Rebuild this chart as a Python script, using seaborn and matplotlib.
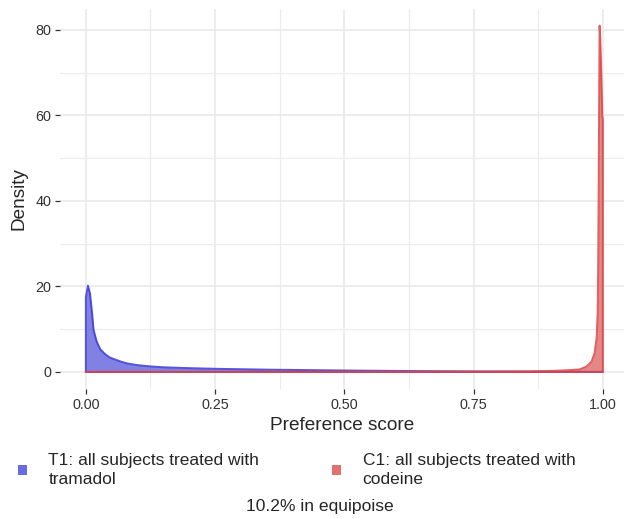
import numpy as np
import pandas as pd
import matplotlib
matplotlib.use("Agg")
import matplotlib.pyplot as plt
import seaborn as sns
from matplotlib.patches import Patch
from matplotlib.ticker import MultipleLocator

# Kurven (Dichte der Präferenz-Scores)
t1_x = [0.0, 0.004, 0.008, 0.012, 0.015, 0.021, 0.028, 0.037, 0.046, 0.066, 0.08, 0.10,
        0.125, 0.15, 0.20, 0.25, 0.35, 0.50, 0.60, 0.75, 0.90, 1.0]
t1_y = [17.5, 20.2, 18.4, 13.8, 9.8, 7.1, 5.3, 4.2, 3.4, 2.5, 2.0, 1.6,
        1.3, 1.1, 0.9, 0.75, 0.55, 0.35, 0.25, 0.12, 0.05, 0.02]

c1_x = [0.0, 0.25, 0.50, 0.75, 0.85, 0.90, 0.93, 0.955, 0.968, 0.978, 0.984, 0.988,
        0.990, 0.991, 0.992, 0.993, 0.9937, 0.995, 0.997, 0.999, 1.0]
c1_y = [0.03, 0.04, 0.06, 0.1, 0.15, 0.25, 0.4, 0.6, 1.25, 2.4, 4.4, 8.0,
        14.0, 25.0, 45.0, 68.0, 81.0, 78.0, 70.0, 60.0, 59.0]

labels = ["T1: all subjects treated with\ntramadol",
          "C1: all subjects treated with\ncodeine"]
caption = "10.2% in equipoise"

fill_cols = ["#6b6be0", "#e07272"]
line_cols = ["#3a3ad6", "#e04545"]

sns.set_style("whitegrid")
plt.rcParams["font.family"] = ["Liberation Sans", "DejaVu Sans"]

W, H = 624, 519
fig = plt.figure(figsize=(W / 100, H / 100), dpi=100)
ax = fig.add_axes([60 / W, (H - 389) / H, (W - 60) / W, 380 / H])


def closed(xs, ys):
    # Polygon bis zur Grundlinie schliessen
    px = np.concatenate([[xs[0]], xs, [xs[-1], xs[0]]])
    py = np.concatenate([[0], ys, [0, 0]])
    return px, py


for xs, ys, fc, lc in [(t1_x, t1_y, fill_cols[0], line_cols[0]),
                       (c1_x, c1_y, fill_cols[1], line_cols[1])]:
    xs = np.array(xs)
    ys = np.array(ys)
    ax.fill_between(xs, 0, ys, color=fc, alpha=0.85, linewidth=0, zorder=2)
    px, py = closed(xs, ys)
    sns.lineplot(x=px, y=py, sort=False, estimator=None, color=lc,
                 linewidth=1.4, alpha=0.85, ax=ax, zorder=3)

ax.set_xlim(-0.05, -0.05 + (W - 60) / 517)
ax.set_ylim(-3.98, 84.9)
ax.set_xticks([0, 0.25, 0.5, 0.75, 1.0])
ax.set_xticklabels(["0.00", "0.25", "0.50", "0.75", "1.00"])
ax.set_yticks([0, 20, 40, 60, 80])
ax.xaxis.set_minor_locator(MultipleLocator(0.125))
ax.yaxis.set_minor_locator(MultipleLocator(10))
ax.grid(which="major", color="#e8e8e8", linewidth=1.1)
ax.grid(which="minor", color="#ececec", linewidth=0.8)
for s in ax.spines.values():
    s.set_visible(False)
ax.tick_params(axis="both", which="major", length=3.8, width=0.9, color="#333333",
               labelsize=10.4, labelcolor="#333333", pad=2.5,
               bottom=True, left=True)
ax.tick_params(which="minor", length=0)
ax.set_xlabel("Preference score", fontsize=13.7, labelpad=4)
ax.set_ylabel("Density", fontsize=13.7, labelpad=6)

handles = [Patch(facecolor=c, edgecolor="none") for c in fill_cols]
leg = fig.legend(handles, labels, ncol=2, loc="center left",
                 bbox_to_anchor=(18 / W, (H - 470) / H), frameon=False,
                 fontsize=12.5, handlelength=0.5, handleheight=0.5,
                 handletextpad=1.25, columnspacing=4.2, borderpad=0,
                 borderaxespad=0)
for t in leg.get_texts():
    t.set_linespacing(1.25)

fig.text(320 / W, (H - 507) / H, caption, ha="center", va="center", fontsize=12.6)

fig.savefig("out.png", dpi=100)
